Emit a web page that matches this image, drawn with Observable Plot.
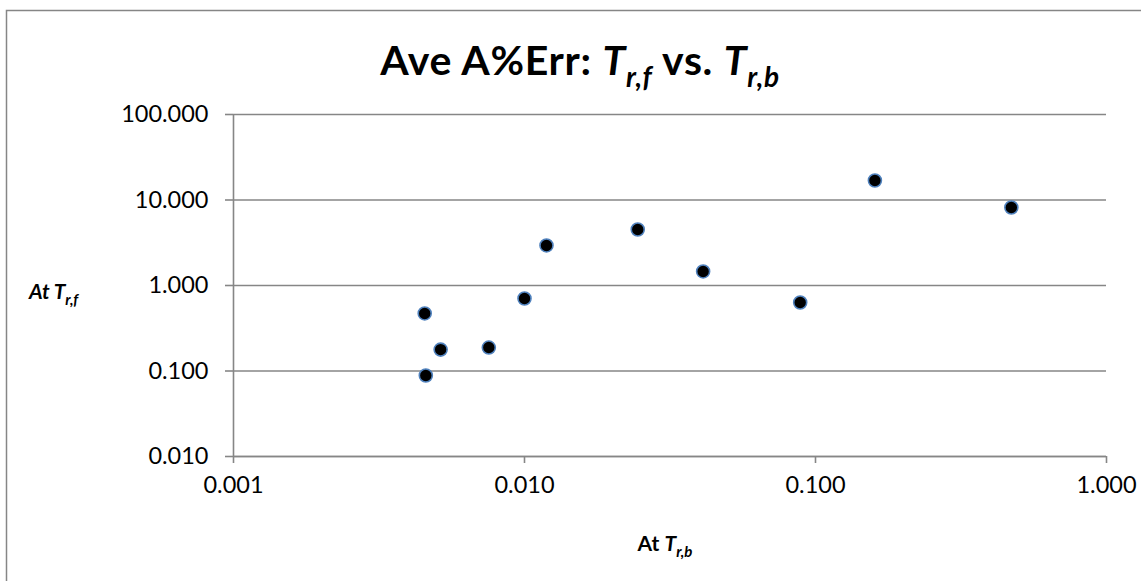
<!DOCTYPE html>
<html>
<head>
<meta charset="utf-8">
<script src="https://cdn.jsdelivr.net/npm/d3@7"></script>
<script src="https://cdn.jsdelivr.net/npm/@observablehq/plot@0.6"></script>
<style>
  html, body { margin: 0; padding: 0; background: #fff; }
  #chart svg { display: block; }
</style>
</head>
<body>
<div id="chart"></div>
<script>
// Data (log-log scatter)
const atTrb = [0.00454, 0.00515, 0.00458, 0.00754, 0.0100, 0.0119, 0.0245, 0.0411, 0.0886, 0.160, 0.471];
const atTrf = [0.471, 0.178, 0.0886, 0.188, 0.705, 2.94, 4.52, 1.46, 0.633, 16.9, 8.17];
const xTicks = [0.001, 0.01, 0.1, 1];
const yTicks = [0.01, 0.1, 1, 10, 100];

const data = atTrb.map((x, i) => ({x, y: atTrf[i]}));
const grey = "#868686";
const fmt = d3.format(".3f");

const chart = Plot.plot({
  width: 1141,
  height: 581,
  marginLeft: 233,
  marginRight: 35,
  marginTop: 114,
  marginBottom: 125,
  style: {fontFamily: "Lato, 'Open Sans', sans-serif", background: "#fff", color: "#000"},
  x: {type: "log", domain: [0.001, 1]},
  y: {type: "log", domain: [0.01, 100]},
  marks: [
    Plot.gridY(yTicks, {stroke: grey, strokeOpacity: 1, strokeWidth: 1.6}),
    Plot.ruleX([0.001], {stroke: grey, strokeWidth: 1.6}),
    Plot.ruleY([0.01], {stroke: grey, strokeWidth: 1.6}),
    Plot.axisY(yTicks, {tickFormat: fmt, tickSize: 8, tickPadding: 17, fontSize: 23.5, label: null, stroke: grey, strokeWidth: 1.6}),
    Plot.axisX(xTicks, {tickFormat: fmt, tickSize: 7, tickPadding: 13, fontSize: 23.5, label: null, stroke: grey, strokeWidth: 1.6}),
    Plot.dot(data, {x: "x", y: "y", r: 6.5, fill: "#000", stroke: "#4f81bd", strokeWidth: 1.6})
  ]
});

const svg = d3.select(chart);
svg.selectAll("g[aria-label='y-axis tick-label'] text, g[aria-label='x-axis tick-label'] text").attr("fill", "#000");

// outer chart border
svg.insert("rect", ":first-child")
  .attr("x", 6.5).attr("y", 10.5).attr("width", 1200).attr("height", 700)
  .attr("fill", "none").attr("stroke", grey).attr("stroke-width", 1.5);

// Title
const title = svg.append("text")
  .attr("x", 580).attr("y", 75)
  .attr("text-anchor", "middle")
  .attr("font-family", "Lato, sans-serif")
  .attr("font-weight", "bold")
  .attr("font-size", 41)
  .attr("letter-spacing", 0.7)
  .attr("fill", "#000");
title.append("tspan").text("Ave A%Err: ");
title.append("tspan").attr("font-style", "italic").text("T");
title.append("tspan").attr("font-style", "italic").attr("font-size", 28).attr("dy", 12).text("r,f");
title.append("tspan").attr("dy", -12).text(" vs. ");
title.append("tspan").attr("font-style", "italic").text("T");
title.append("tspan").attr("font-style", "italic").attr("font-size", 28).attr("dy", 12).text("r,b");

// Y axis title
const yt = svg.append("text")
  .attr("x", 29).attr("y", 299)
  .attr("text-anchor", "start")
  .attr("font-family", "Lato, sans-serif")
  .attr("font-weight", "bold").attr("font-style", "italic")
  .attr("font-size", 21).attr("fill", "#000");
yt.append("tspan").text("At T");
yt.append("tspan").attr("font-size", 15).attr("dy", 6).text("r,f");

// X axis title
const xt = svg.append("text")
  .attr("x", 665).attr("y", 551)
  .attr("text-anchor", "middle")
  .attr("font-family", "Lato, sans-serif")
  .attr("font-weight", "bold")
  .attr("font-size", 21).attr("fill", "#000");
xt.append("tspan").text("At ");
xt.append("tspan").attr("font-style", "italic").text("T");
xt.append("tspan").attr("font-style", "italic").attr("font-size", 15).attr("dy", 6).text("r,b");

document.getElementById("chart").appendChild(chart);
</script>
</body>
</html>
